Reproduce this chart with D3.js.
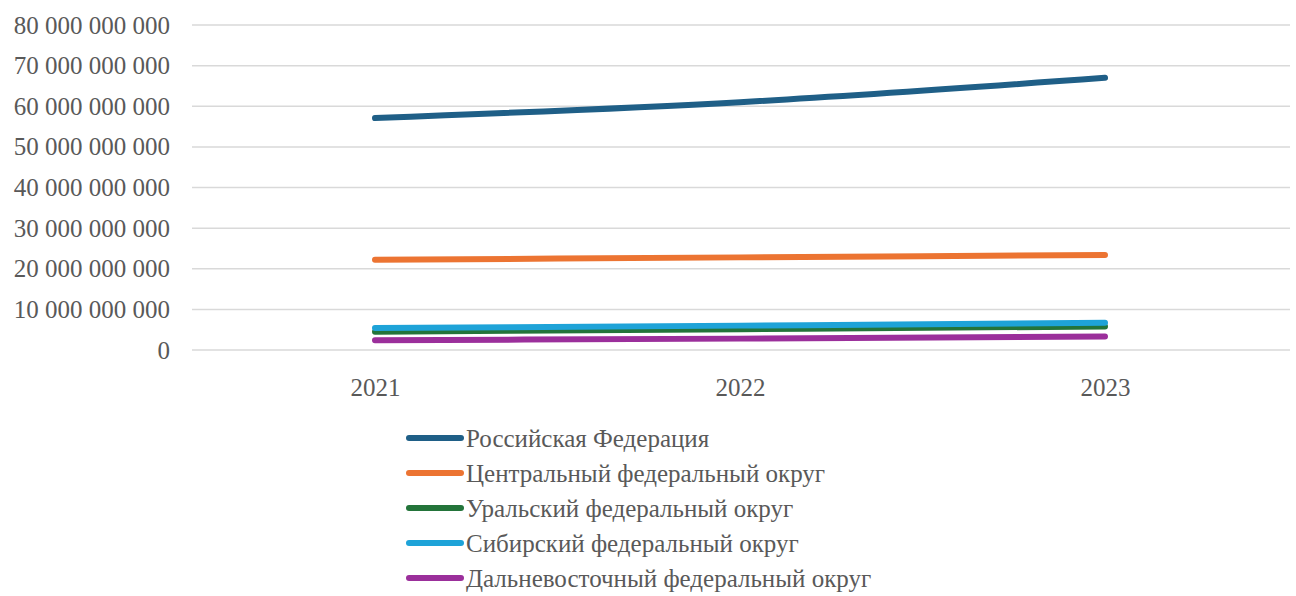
<!DOCTYPE html>
<html>
<head>
<meta charset="utf-8">
<script src="https://cdn.jsdelivr.net/npm/d3@7"></script>
<style>
  html, body { margin: 0; padding: 0; background: #fff; }
  svg { display: block; }
  text { font-family: "Liberation Serif", Tinos, "Times New Roman", "DejaVu Serif", serif; fill: #595959; }
</style>
</head>
<body>
<svg id="chart" width="1296" height="596"></svg>
<script>
// Years on the horizontal axis
const years = ["2021", "2022", "2023"];

// Series names and values (roubles)
const seriesNames = [
  "Российская Федерация",
  "Центральный федеральный округ",
  "Уральский федеральный округ",
  "Сибирский федеральный округ",
  "Дальневосточный федеральный округ"
];
const russia   = [57100000000, 61000000000, 67000000000];
const central  = [22200000000, 22800000000, 23400000000];
const ural     = [4500000000, 5100000000, 5800000000];
const siberia  = [5400000000, 6000000000, 6700000000];
const farEast  = [2400000000, 2800000000, 3300000000];
const seriesColors = ["#1f5f87", "#ec7432", "#23743a", "#1ea3d8", "#9b2f9b"];

// Y axis ticks
const yTicks = [0, 10000000000, 20000000000, 30000000000, 40000000000,
                50000000000, 60000000000, 70000000000, 80000000000];

const seriesValues = [russia, central, ural, siberia, farEast];
// Drawing order: lower series first so the federal total sits on top
const drawOrder = [1, 2, 3, 4, 0];

const svg = d3.select("#chart");
const margin = { left: 192, right: 1290, top: 25, bottom: 350 };

const x = d3.scalePoint().domain(years).range([375, 1105]);
const y = d3.scaleLinear().domain([0, 80000000000]).range([margin.bottom, margin.top]);

const fmt = v => d3.format(",")(v).replace(/,/g, " ");
const fontStack = '"Liberation Serif", Tinos, "Times New Roman", "DejaVu Serif", serif';

// Gridlines
svg.append("g")
  .selectAll("line")
  .data(yTicks)
  .join("line")
  .attr("x1", margin.left)
  .attr("x2", margin.right)
  .attr("y1", d => y(d))
  .attr("y2", d => y(d))
  .attr("stroke", "#d9d9d9")
  .attr("stroke-width", 1.5);

// Y axis labels
const yAxis = d3.axisLeft(y).tickValues(yTicks).tickFormat(fmt).tickSize(0).tickPadding(0);
const gy = svg.append("g").attr("transform", "translate(170,0)").call(yAxis);
gy.attr("font-family", null).attr("font-size", null);
gy.select(".domain").remove();
gy.selectAll("text")
  .attr("font-family", fontStack)
  .attr("font-size", 25)
  .attr("fill", "#595959")
  .attr("dy", "0.32em");

// X axis labels
const xAxis = d3.axisBottom(x).tickSize(0).tickPadding(0);
const gx = svg.append("g").attr("transform", "translate(0,378)").call(xAxis);
gx.attr("font-family", null).attr("font-size", null);
gx.select(".domain").remove();
gx.selectAll("text")
  .attr("font-family", fontStack)
  .attr("font-size", 25)
  .attr("fill", "#595959")
  .attr("dy", "0.71em");

// Lines
const line = d3.line().x((d, i) => x(years[i])).y(d => y(d)).curve(d3.curveMonotoneX);
svg.append("g")
  .selectAll("path")
  .data(drawOrder)
  .join("path")
  .attr("d", i => line(seriesValues[i]))
  .attr("fill", "none")
  .attr("stroke", i => seriesColors[i])
  .attr("stroke-width", 6)
  .attr("stroke-linecap", "round")
  .attr("stroke-linejoin", "round");

// Legend
const legend = svg.append("g");
const rowY = d3.scalePoint().domain(d3.range(seriesNames.length)).range([438, 578]);
const items = legend.selectAll("g")
  .data(seriesNames)
  .join("g")
  .attr("transform", (d, i) => `translate(0,${rowY(i)})`);
items.append("line")
  .attr("x1", 409).attr("x2", 461)
  .attr("y1", 0).attr("y2", 0)
  .attr("stroke", (d, i) => seriesColors[i])
  .attr("stroke-width", 6)
  .attr("stroke-linecap", "round");
items.append("text")
  .attr("x", 466)
  .attr("dy", "0.34em")
  .attr("font-family", fontStack)
  .attr("font-size", 25)
  .text(d => d);
</script>
</body>
</html>
